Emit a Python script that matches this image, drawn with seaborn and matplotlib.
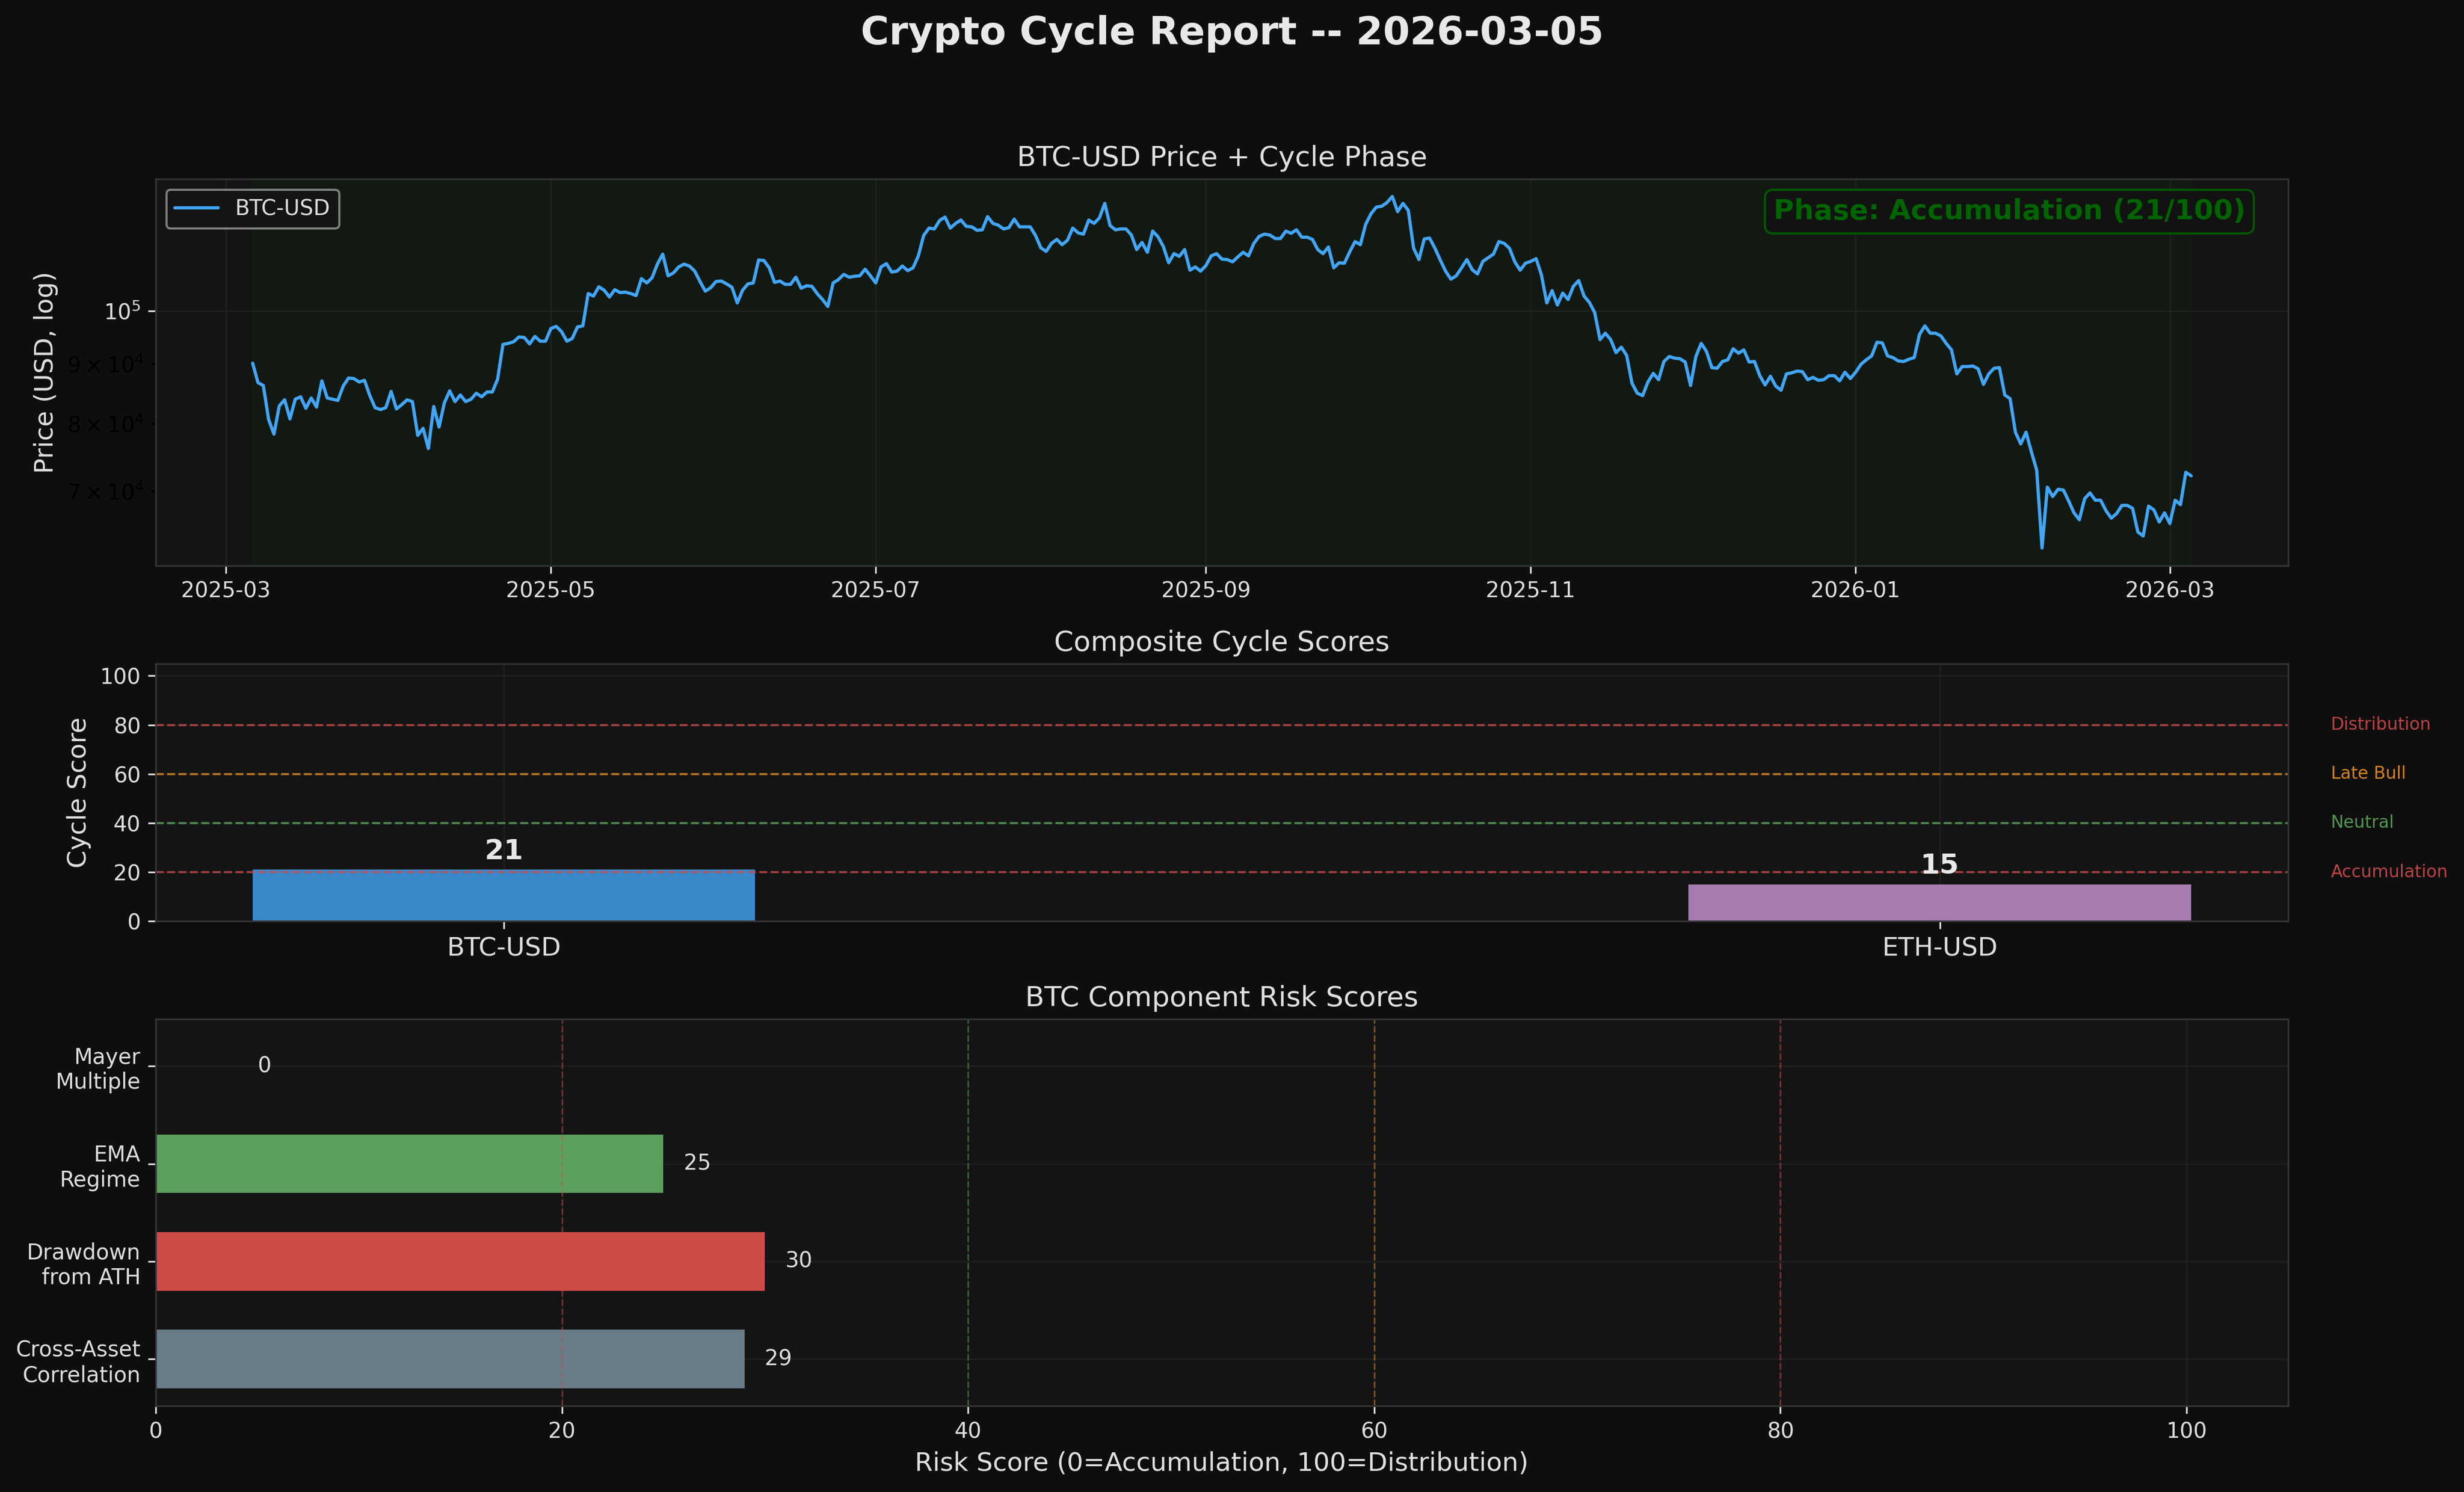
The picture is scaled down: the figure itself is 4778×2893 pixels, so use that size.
import numpy as np
import pandas as pd
import matplotlib
matplotlib.use("Agg")
import matplotlib.pyplot as plt
import matplotlib.dates as mdates
import seaborn as sns

REPORT_DATE = "2026-03-05"
START_DATE = "2025-03-06"

# BTC-USD daily close in thousands of USD, 2025-03-06 .. 2026-03-05
btc_close_k = [
    90.2, 86.8, 86.3, 80.7, 78.4, 82.9, 83.9, 80.8, 84.0, 84.4,
    82.5, 84.2, 82.7, 87.1, 84.2, 84.0, 83.8, 86.2, 87.6, 87.5,
    86.9, 87.2, 84.6, 82.6, 82.3, 82.6, 85.3, 82.4, 83.1, 83.9,
    83.6, 78.2, 79.3, 76.2, 82.8, 79.5, 83.4, 85.4, 83.6, 84.7,
    83.6, 84.0, 85.0, 84.4, 85.2, 85.2, 87.4, 93.6, 93.8, 94.1,
    95.0, 94.9, 93.7, 95.1, 94.2, 94.2, 96.6, 97.0, 96.0, 94.2,
    94.7, 96.9, 97.1, 103.5, 103.0, 104.9, 104.2, 102.8, 104.3, 103.7,
    103.8, 103.5, 103.1, 106.6, 105.7, 106.8, 109.7, 111.9, 107.2, 107.8,
    109.1, 109.7, 109.3, 108.2, 106.0, 104.0, 104.7, 106.0, 106.1, 105.5,
    104.8, 101.6, 104.2, 105.5, 105.7, 110.6, 110.5, 108.9, 105.8, 106.1,
    105.4, 105.4, 106.9, 104.6, 105.1, 105.0, 103.5, 102.3, 100.9, 105.7,
    106.4, 107.5, 106.9, 107.1, 107.2, 108.6, 107.2, 105.7, 109.1, 109.8,
    108.0, 108.2, 109.3, 108.3, 108.9, 111.5, 116.1, 117.8, 117.6, 119.6,
    120.4, 117.8, 118.9, 119.7, 118.2, 118.1, 117.3, 117.4, 120.5, 118.9,
    118.5, 117.6, 117.9, 119.9, 118.1, 118.1, 118.1, 116.1, 113.3, 112.5,
    114.3, 115.2, 114.0, 115.0, 117.8, 116.7, 116.4, 119.7, 118.9, 120.2,
    123.7, 118.4, 117.4, 117.6, 117.6, 116.2, 112.9, 114.5, 112.3, 117.1,
    115.8, 113.6, 110.0, 112.0, 111.4, 112.9, 108.4, 109.1, 108.2, 109.4,
    111.5, 112.0, 110.8, 110.7, 110.2, 111.3, 112.3, 111.5, 114.3, 115.9,
    116.4, 116.2, 115.4, 115.4, 117.1, 116.6, 117.4, 115.7, 115.7, 115.2,
    112.9, 112.0, 113.5, 108.9, 110.0, 109.9, 112.4, 114.7, 114.0, 118.7,
    121.2, 122.8, 123.0, 123.9, 125.4, 121.7, 123.7, 122.0, 113.2, 110.7,
    115.3, 115.5, 113.2, 110.6, 108.2, 106.5, 107.2, 108.9, 110.7, 108.5,
    107.6, 110.3, 111.1, 111.9, 114.7, 114.3, 113.2, 110.2, 108.4, 109.9,
    110.3, 110.9, 107.4, 101.6, 104.1, 101.2, 103.6, 102.3, 105.0, 106.2,
    103.0, 101.7, 99.7, 94.5, 95.7, 94.5, 92.1, 93.1, 91.6, 86.7,
    85.0, 84.6, 86.9, 88.4, 87.3, 90.5, 91.4, 91.1, 91.0, 90.4,
    86.3, 91.4, 93.8, 92.3, 89.4, 89.3, 90.5, 90.8, 92.8, 92.0,
    92.6, 90.4, 90.5, 88.0, 86.4, 87.9, 86.2, 85.5, 88.3, 88.5,
    88.8, 88.7, 87.3, 87.7, 87.2, 87.3, 88.0, 88.0, 87.1, 88.6,
    87.5, 88.6, 90.0, 90.8, 91.5, 94.0, 93.9, 91.5, 91.2, 90.6,
    90.5, 90.9, 91.2, 95.5, 97.1, 95.7, 95.7, 95.2, 93.8, 92.6,
    88.3, 89.6, 89.6, 89.7, 89.2, 86.5, 88.3, 89.3, 89.4, 84.7,
    84.1, 78.7, 76.9, 78.7, 75.7, 73.0, 62.6, 70.6, 69.3, 70.3,
    70.2, 68.7, 67.1, 66.2, 69.0, 69.8, 68.8, 68.8, 67.4, 66.4,
    67.0, 68.1, 68.1, 67.7, 64.6, 64.1, 68.0, 67.5, 65.9, 67.1,
    65.7, 68.8, 68.2, 72.7, 72.2,
]

assets = ["BTC-USD", "ETH-USD"]
cycle_scores = [21, 15]
asset_colors = ["#3a88c9", "#a77bb0"]

components = ["Mayer\nMultiple", "EMA\nRegime", "Drawdown\nfrom ATH", "Cross-Asset\nCorrelation"]
component_scores = [0, 25, 30, 29]
component_colors = ["#e0a040", "#5ba05d", "#cd4b47", "#687c87"]

zone_levels = [20, 40, 60, 80]
zone_names = ["Accumulation", "Neutral", "Late Bull", "Distribution"]
zone_colors = ["#d04a4a", "#5aa55a", "#e8921f", "#d04a4a"]

BG = "#0e0e0e"
PANEL = "#141414"
TXT = "#e0e0e0"
TICK = "#dddddd"
GRID = "#2a2a2a"

sns.set_theme(style="ticks", rc={
    "figure.facecolor": BG,
    "axes.facecolor": PANEL,
    "axes.edgecolor": "#333333",
    "axes.linewidth": 0.8,
    "text.color": TXT,
    "axes.labelcolor": TXT,
    "xtick.major.size": 3.5,
    "ytick.major.size": 3.5,
    "xtick.minor.size": 2,
    "ytick.minor.size": 2,
    "xtick.major.width": 0.8,
    "ytick.major.width": 0.8,
    "xtick.color": "black",
    "ytick.color": "black",
    "patch.edgecolor": "none",
})
plt.rcParams["font.family"] = ["DejaVu Sans"]

fig, axes = plt.subplots(3, 1, figsize=(4778 / 300, 2893 / 300), dpi=300,
                         gridspec_kw={"height_ratios": [3, 2, 3]})
fig.subplots_adjust(left=0.0632, right=0.9286, top=0.8801, bottom=0.0577, hspace=0.285)
fig.suptitle(f"Crypto Cycle Report -- {REPORT_DATE}", fontsize=18, fontweight="bold",
             color="#e8e8e8", y=0.99)

# --- Panel 1: price + phase ---
ax1 = axes[0]
dates = pd.date_range(START_DATE, periods=len(btc_close_k), freq="D")
price_df = pd.DataFrame({"Date": dates, "Close": np.array(btc_close_k) * 1000.0})

ax1.axvspan(price_df["Date"].iloc[0], price_df["Date"].iloc[-1], color="green", alpha=0.05, zorder=0)
sns.lineplot(data=price_df, x="Date", y="Close", ax=ax1, color="#42a5f5", linewidth=1.5, label="BTC-USD")
ax1.set_yscale("log")
ax1.grid(True, color=GRID, linewidth=0.6, alpha=0.6)
ax1.xaxis.set_major_locator(mdates.MonthLocator(bymonth=[1, 3, 5, 7, 9, 11]))
ax1.xaxis.set_major_formatter(mdates.DateFormatter("%Y-%m"))
ax1.tick_params(axis="both", colors=TICK, labelsize=10)
ax1.tick_params(axis="y", which="minor", labelsize=10)
ax1.set_xlabel("")
ax1.set_ylabel("Price (USD, log)", fontsize=12)
ax1.set_title("BTC-USD Price + Cycle Phase", fontsize=13, color=TXT)
leg = ax1.legend(loc="upper left", fontsize=10, facecolor=PANEL, edgecolor="#999999", labelcolor=TICK)
ax1.text(0.98, 0.95, f"Phase: Accumulation ({cycle_scores[0]}/100)", transform=ax1.transAxes,
         ha="right", va="top", fontsize=13, fontweight="bold", color="darkgreen",
         bbox=dict(boxstyle="round,pad=0.3", facecolor="#111111", edgecolor="darkgreen", alpha=0.85))

# --- Panel 2: composite scores ---
ax2 = axes[1]
score_df = pd.DataFrame({"Asset": assets, "Score": cycle_scores})
sns.barplot(data=score_df, x="Asset", y="Score", hue="Asset", palette=asset_colors, legend=False,
            width=0.35, saturation=1, edgecolor="none", linewidth=0, ax=ax2)
for lvl, name, col in zip(zone_levels, zone_names, zone_colors):
    ax2.axhline(lvl, color=col, linestyle="--", linewidth=1, alpha=0.75)
    ax2.text(1.02, lvl, name, transform=ax2.get_yaxis_transform(), color=col, fontsize=8,
             va="center", alpha=0.9)
for i, s in enumerate(cycle_scores):
    ax2.text(i, s + 2, str(s), ha="center", va="bottom", fontsize=13, fontweight="bold", color="#e8e8e8")
ax2.set_xlim(-0.2425, 1.2425)
ax2.set_ylim(0, 105)
ax2.set_yticks([0, 20, 40, 60, 80, 100])
ax2.grid(True, color=GRID, linewidth=0.6, alpha=0.6)
ax2.tick_params(axis="both", colors=TICK, labelsize=10)
ax2.tick_params(axis="x", labelsize=12)
ax2.set_xlabel("")
ax2.set_ylabel("Cycle Score", fontsize=12)
ax2.set_title("Composite Cycle Scores", fontsize=13, color=TXT)

# --- Panel 3: component risk scores ---
ax3 = axes[2]
comp_df = pd.DataFrame({"Component": components, "Score": component_scores})
sns.barplot(data=comp_df, x="Score", y="Component", hue="Component", palette=component_colors,
            legend=False, width=0.6, saturation=1, orient="h", edgecolor="none", linewidth=0, ax=ax3)
for lvl, col in zip(zone_levels, zone_colors):
    ax3.axvline(lvl, color=col, linestyle="--", linewidth=0.8, alpha=0.45)
for i, s in enumerate(component_scores):
    ax3.text(max(s, 4) + 1, i, str(s), ha="left", va="center", fontsize=10, color=TICK)
ax3.set_xlim(0, 105)
ax3.set_ylim(3.48, -0.48)
ax3.grid(True, color=GRID, linewidth=0.6, alpha=0.6)
ax3.tick_params(axis="both", colors=TICK, labelsize=10)
ax3.set_ylabel("")
ax3.set_xlabel("Risk Score (0=Accumulation, 100=Distribution)", fontsize=12)
ax3.set_title("BTC Component Risk Scores", fontsize=13, color=TXT)

for ax in axes:
    for sp in ax.spines.values():
        sp.set_visible(True)
        sp.set_color("#333333")

fig.savefig("out.png", dpi=300, facecolor=BG)
